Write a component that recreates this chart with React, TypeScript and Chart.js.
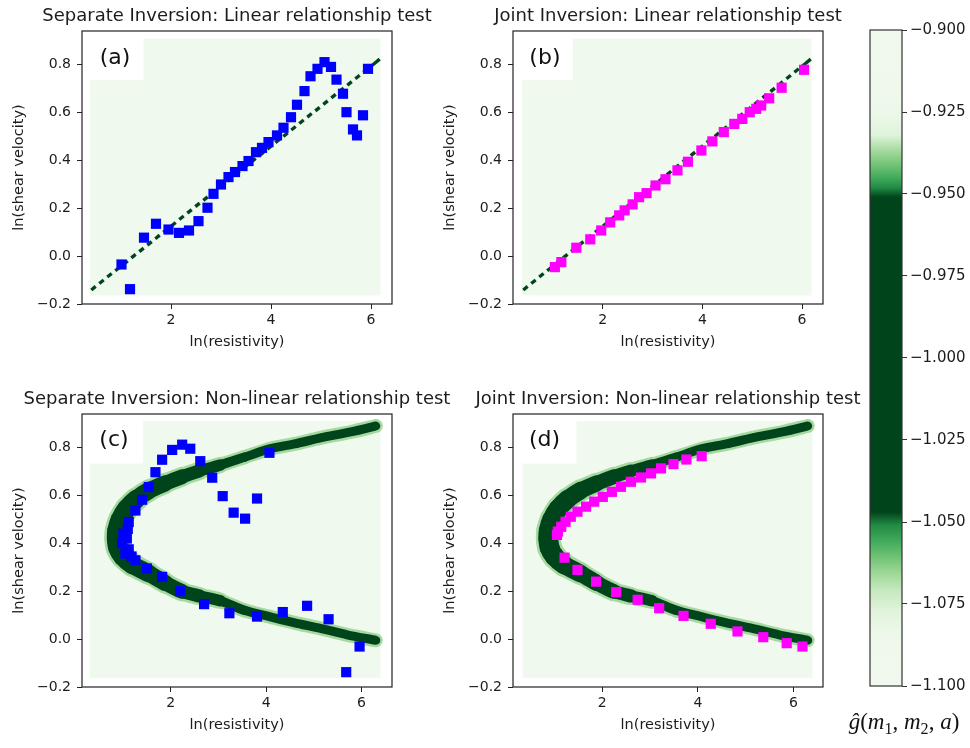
import React, { useEffect, useRef } from 'react';
import { Chart, registerables } from 'chart.js';

Chart.register(...registerables);

// ---------- data ----------
const X_TICKS = [2, 4, 6];
const Y_TICKS = [-0.2, 0, 0.2, 0.4, 0.6, 0.8];
const CB_TICKS = [-0.9, -0.925, -0.95, -0.975, -1.0, -1.025, -1.05, -1.075, -1.1];

// linear relationship: cells of the objective function near its minimum
const LIN_X = [0.45, 0.61, 0.77, 0.93, 1.09, 1.25, 1.41, 1.57, 1.73, 1.89, 2.05, 2.21, 2.37, 2.53, 2.69, 2.85, 3.01, 3.17, 3.33, 3.49, 3.65, 3.81, 3.97, 4.13, 4.29, 4.45, 4.61, 4.77, 4.93, 5.09, 5.25, 5.41, 5.57, 5.73, 5.89, 6.05, 6.13];
const LIN_Y = [-0.134, -0.107, -0.08, -0.054, -0.027, 0.0, 0.026, 0.053, 0.08, 0.107, 0.133, 0.16, 0.187, 0.214, 0.24, 0.267, 0.294, 0.32, 0.347, 0.374, 0.401, 0.427, 0.454, 0.481, 0.507, 0.534, 0.561, 0.588, 0.614, 0.641, 0.668, 0.694, 0.721, 0.748, 0.775, 0.801, 0.815];

// non-linear relationship: centre line of the dark band
const NL_X = [6.3, 5.8, 5.14, 4.6, 4.09, 3.55, 3.04, 2.6, 2.24, 1.88, 1.54, 1.28, 1.08, 0.95, 0.88, 0.87, 0.9, 1.0, 1.2, 1.54, 1.88, 2.24, 2.6, 3.04, 3.55, 4.09, 4.6, 5.14, 5.7, 6.3];
const NL_Y = [0.89, 0.866, 0.84, 0.815, 0.795, 0.76, 0.727, 0.702, 0.678, 0.65, 0.62, 0.585, 0.545, 0.5, 0.455, 0.42, 0.38, 0.345, 0.31, 0.274, 0.235, 0.199, 0.18, 0.16, 0.12, 0.093, 0.068, 0.045, 0.018, -0.005];

// (a) separate inversion, linear
const A_X = [1.01, 1.18, 1.46, 1.7, 1.95, 2.16, 2.36, 2.55, 2.73, 2.85, 3.0, 3.15, 3.28, 3.43, 3.55, 3.7, 3.82, 3.95, 4.12, 4.25, 4.4, 4.52, 4.67, 4.79, 4.93, 5.07, 5.2, 5.31, 5.44, 5.51, 5.64, 5.72, 5.84, 5.94];
const A_Y = [-0.035, -0.138, 0.077, 0.135, 0.111, 0.097, 0.107, 0.146, 0.202, 0.26, 0.299, 0.33, 0.351, 0.376, 0.397, 0.434, 0.452, 0.476, 0.504, 0.536, 0.58, 0.632, 0.689, 0.751, 0.782, 0.81, 0.79, 0.737, 0.678, 0.601, 0.529, 0.504, 0.588, 0.782];

// (b) joint inversion, linear
const B_X = [1.04, 1.17, 1.47, 1.75, 1.97, 2.15, 2.33, 2.44, 2.6, 2.73, 2.88, 3.06, 3.26, 3.5, 3.71, 3.98, 4.2, 4.43, 4.64, 4.8, 4.95, 5.08, 5.18, 5.34, 5.59, 6.04];
const B_Y = [-0.046, -0.025, 0.035, 0.07, 0.107, 0.141, 0.17, 0.191, 0.216, 0.246, 0.263, 0.295, 0.321, 0.358, 0.394, 0.441, 0.479, 0.518, 0.552, 0.573, 0.601, 0.615, 0.629, 0.659, 0.703, 0.778];

// (c) separate inversion, non-linear
const C_X = [4.07, 2.24, 2.03, 2.41, 1.82, 2.62, 1.68, 2.87, 1.54, 1.4, 3.09, 3.81, 3.32, 3.56, 1.26, 1.12, 1.01, 0.98, 1.05, 1.26, 1.5, 1.82, 2.2, 2.7, 3.23, 3.81, 4.35, 4.86, 5.31, 5.96, 5.68, 1.1, 1.08, 1.12, 1.18];
const C_Y = [0.778, 0.812, 0.79, 0.795, 0.749, 0.743, 0.697, 0.674, 0.635, 0.582, 0.597, 0.587, 0.528, 0.503, 0.537, 0.489, 0.44, 0.4, 0.357, 0.329, 0.295, 0.26, 0.2, 0.146, 0.108, 0.094, 0.113, 0.139, 0.083, -0.031, -0.138, 0.46, 0.42, 0.375, 0.345];

// (d) joint inversion, non-linear
const D_X = [4.08, 3.76, 3.49, 3.23, 3.02, 2.81, 2.6, 2.39, 2.2, 2.01, 1.83, 1.66, 1.48, 1.34, 1.23, 1.14, 1.07, 1.05, 1.21, 1.48, 1.87, 2.29, 2.74, 3.19, 3.7, 4.27, 4.83, 5.37, 5.86, 6.19];
const D_Y = [0.764, 0.75, 0.731, 0.713, 0.692, 0.675, 0.657, 0.636, 0.615, 0.594, 0.574, 0.553, 0.532, 0.511, 0.49, 0.469, 0.449, 0.435, 0.34, 0.289, 0.24, 0.196, 0.164, 0.129, 0.097, 0.064, 0.032, 0.008, -0.017, -0.031];

// colour bar (value -> colour)
const CB_STOP_VALUES = [-0.9, -0.925, -0.932, -0.937, -0.941, -0.945, -0.948, -0.951, -1.047, -1.051, -1.056, -1.061, -1.066, -1.071, -1.077, -1.084, -1.1];
const CB_STOP_COLORS = ['#f1f9ee', '#eef8ea', '#e0f3db', '#a1d99b', '#74c476', '#41ab5d', '#238b45', '#00441b', '#00441b', '#238b45', '#41ab5d', '#74c476', '#a1d99b', '#c7e9c0', '#e0f3db', '#eef8ea', '#f1f9ee'];

// ---------- styling ----------
const FONT = '"DejaVu Sans", "Liberation Sans", sans-serif';
const TXT = '#1c1c1c';
const HEAT_BG = '#f0f9ed';
const DARK = '#00441b';

const pts = (xs: number[], ys: number[]) => xs.map((x, i) => ({ x, y: ys[i] }));
const fmt = (v: number, d: number) => {
  const s = Math.abs(v).toFixed(d);
  return v < -1e-9 ? '\u2212' + s : s;
};
const bandWidth = (x: number) => 9 + 11 * Math.max(0, 1 - (x - 0.87) / 2.5);

type Spec = {
  title: string;
  tag: string;
  xMin: number;
  xMax: number;
  heat: number[]; // x0, x1, y0, y1
  tagBoxRight: number;
  tagBoxBottom: number;
  tagPos: number[];
  datasets: any[];
};

function linearSets(xs: number[], ys: number[], color: string) {
  return [
    {
      data: pts(xs, ys),
      pointStyle: 'rect',
      pointRadius: 7.2,
      backgroundColor: color,
      borderWidth: 0,
      order: 0,
    },
    {
      data: pts(LIN_X, LIN_Y),
      pointStyle: 'line',
      pointRadius: 2.8,
      pointRotation: -39,
      borderColor: DARK,
      backgroundColor: DARK,
      borderWidth: 3.4,
      order: 2,
    },
  ];
}

function nonlinearSets(xs: number[], ys: number[], color: string) {
  return [
    {
      data: pts(xs, ys),
      pointStyle: 'rect',
      pointRadius: 7.2,
      backgroundColor: color,
      borderWidth: 0,
      order: 0,
    },
    {
      data: pts(NL_X, NL_Y),
      showLine: true,
      pointRadius: 0,
      borderColor: DARK,
      borderCapStyle: 'round',
      borderJoinStyle: 'round',
      tension: 0.25,
      borderWidth: 10,
      segment: {
        borderWidth: (c: any) => bandWidth((NL_X[c.p0DataIndex] + NL_X[c.p1DataIndex]) / 2),
      },
      order: 2,
    },
    {
      data: pts(NL_X, NL_Y),
      showLine: true,
      pointRadius: 0,
      borderColor: '#a6d9a0',
      borderCapStyle: 'round',
      borderJoinStyle: 'round',
      tension: 0.25,
      borderWidth: 15,
      segment: {
        borderWidth: (c: any) => bandWidth((NL_X[c.p0DataIndex] + NL_X[c.p1DataIndex]) / 2) + 5,
      },
      order: 3,
    },
  ];
}

function panelConfig(spec: Spec): any {
  const decor = {
    id: 'panelDecor',
    beforeDatasetsDraw(chart: any) {
      const { ctx, chartArea: ca } = chart;
      const xs = chart.scales.x;
      const ys = chart.scales.y;
      const [hx0, hx1, hy0, hy1] = spec.heat;
      ctx.save();
      ctx.beginPath();
      ctx.rect(ca.left, ca.top, ca.right - ca.left, ca.bottom - ca.top);
      ctx.clip();
      ctx.fillStyle = HEAT_BG;
      const px0 = xs.getPixelForValue(hx0);
      const px1 = xs.getPixelForValue(hx1);
      const py0 = ys.getPixelForValue(hy1);
      const py1 = ys.getPixelForValue(hy0);
      ctx.fillRect(px0, py0, px1 - px0, py1 - py0);
      // white box behind the panel tag
      ctx.fillStyle = '#ffffff';
      const bx1 = xs.getPixelForValue(spec.tagBoxRight);
      const by1 = ys.getPixelForValue(spec.tagBoxBottom);
      ctx.fillRect(ca.left, ca.top, bx1 - ca.left, by1 - ca.top);
      ctx.restore();
    },
    afterDraw(chart: any) {
      const { ctx, chartArea: ca } = chart;
      const xs = chart.scales.x;
      const ys = chart.scales.y;
      ctx.save();
      // frame (all four spines)
      ctx.strokeStyle = '#222';
      ctx.lineWidth = 1.2;
      ctx.strokeRect(ca.left, ca.top, ca.right - ca.left, ca.bottom - ca.top);
      // tag
      ctx.fillStyle = '#111';
      ctx.font = `22px ${FONT}`;
      ctx.textAlign = 'center';
      ctx.textBaseline = 'middle';
      ctx.fillText(spec.tag, xs.getPixelForValue(spec.tagPos[0]), ys.getPixelForValue(spec.tagPos[1]));
      // title
      ctx.fillStyle = TXT;
      ctx.font = `18px ${FONT}`;
      ctx.textBaseline = 'alphabetic';
      ctx.fillText(spec.title, (ca.left + ca.right) / 2, ca.top - 10);
      ctx.restore();
    },
  };

  const gridOpts = { drawOnChartArea: false, drawTicks: true, tickLength: 5, color: '#222', lineWidth: 1 };
  return {
    type: 'scatter',
    data: { datasets: spec.datasets },
    options: {
      animation: false,
      responsive: false,
      devicePixelRatio: 1,
      layout: { padding: { left: 0, top: 31, right: 78, bottom: 6 } },
      plugins: { legend: { display: false }, tooltip: { enabled: false }, title: { display: false } },
      scales: {
        x: {
          type: 'linear',
          min: spec.xMin,
          max: spec.xMax,
          afterBuildTicks: (s: any) => {
            s.ticks = X_TICKS.map((v) => ({ value: v }));
          },
          afterFit: (s: any) => {
            s.height = 50;
          },
          ticks: { font: { family: FONT, size: 14 }, color: TXT, padding: 3, maxRotation: 0, callback: (v: any) => String(v) },
          grid: gridOpts,
          border: { display: false },
          title: { display: true, text: 'ln(resistivity)', font: { family: FONT, size: 14.5 }, color: TXT, padding: { top: 0, bottom: 3.3 } },
        },
        y: {
          type: 'linear',
          min: -0.2,
          max: 0.94,
          afterBuildTicks: (s: any) => {
            s.ticks = Y_TICKS.map((v) => ({ value: v }));
          },
          afterFit: (s: any) => {
            s.width = 82;
          },
          ticks: { font: { family: FONT, size: 14 }, color: TXT, padding: 6, callback: (v: any) => fmt(Number(v), 1) },
          grid: gridOpts,
          border: { display: false },
          title: { display: true, text: 'ln(shear velocity)', font: { family: FONT, size: 14.5 }, color: TXT, padding: { top: 10.3, bottom: 0 } },
        },
      },
    },
    plugins: [decor],
  };
}

function colorbarConfig(): any {
  const cb = {
    id: 'cbDecor',
    beforeDatasetsDraw(chart: any) {
      const { ctx, chartArea: ca } = chart;
      const ys = chart.scales.y;
      const g = ctx.createLinearGradient(0, ca.top, 0, ca.bottom);
      CB_STOP_VALUES.forEach((v, i) => {
        const f = (ys.getPixelForValue(v) - ca.top) / (ca.bottom - ca.top);
        g.addColorStop(Math.min(1, Math.max(0, f)), CB_STOP_COLORS[i]);
      });
      ctx.save();
      ctx.fillStyle = g;
      ctx.fillRect(ca.left, ca.top, ca.right - ca.left, ca.bottom - ca.top);
      ctx.restore();
    },
    afterDraw(chart: any) {
      const { ctx, chartArea: ca } = chart;
      ctx.save();
      ctx.strokeStyle = '#333';
      ctx.lineWidth = 1.2;
      ctx.strokeRect(ca.left, ca.top, ca.right - ca.left, ca.bottom - ca.top);
      // label  ĝ(m1, m2, a)
      const it = (s: number) => `italic ${s}px "Liberation Serif", "DejaVu Serif", serif`;
      const rm = (s: number) => `${s}px "Liberation Serif", "DejaVu Serif", serif`;
      const parts: { t: string; sub?: boolean; ital: boolean; gap?: number }[] = [
        { t: '\u011D', ital: true },
        { t: '(', ital: false },
        { t: 'm', ital: true },
        { t: '1', ital: false, sub: true },
        { t: ',', ital: false, gap: 0.25 },
        { t: 'm', ital: true },
        { t: '2', ital: false, sub: true },
        { t: ',', ital: false, gap: 0.25 },
        { t: 'a', ital: true },
        { t: ')', ital: false },
      ];
      const size = 23;
      const measure = (p: any) => {
        const s = p.sub ? size * 0.7 : size;
        ctx.font = p.ital ? it(s) : rm(s);
        return ctx.measureText(p.t).width + (p.gap ? p.gap * size : 0);
      };
      const total = parts.reduce((a, p) => a + measure(p), 0);
      let x = 64 - total / 2;
      const base = 729;
      ctx.fillStyle = '#111';
      ctx.textBaseline = 'alphabetic';
      ctx.textAlign = 'left';
      parts.forEach((p) => {
        const s = p.sub ? size * 0.7 : size;
        ctx.font = p.ital ? it(s) : rm(s);
        ctx.fillText(p.t, x, p.sub ? base + size * 0.2 : base);
        x += measure(p);
      });
      ctx.restore();
    },
  };
  return {
    type: 'scatter',
    data: { datasets: [] },
    options: {
      animation: false,
      responsive: false,
      devicePixelRatio: 1,
      layout: { padding: { left: 30, top: 30, right: 0, bottom: 62 } },
      plugins: { legend: { display: false }, tooltip: { enabled: false } },
      scales: {
        x: { display: false, min: 0, max: 1 },
        y: {
          position: 'right',
          min: -1.1,
          max: -0.9,
          afterBuildTicks: (s: any) => {
            s.ticks = CB_TICKS.map((v) => ({ value: v }));
          },
          afterFit: (s: any) => {
            s.width = 68;
          },
          ticks: { font: { family: FONT, size: 15 }, color: TXT, padding: 3, callback: (v: any) => fmt(Number(v), 3) },
          grid: { drawOnChartArea: false, drawTicks: true, tickLength: 5, color: '#333', lineWidth: 1 },
          border: { display: false },
        },
      },
    },
    plugins: [cb],
  };
}

const SPECS: Spec[] = [
  {
    title: 'Separate Inversion: Linear relationship test',
    tag: '(a)',
    xMin: 0.22,
    xMax: 6.42,
    heat: [0.38, 6.19, -0.164, 0.908],
    tagBoxRight: 1.45,
    tagBoxBottom: 0.735,
    tagPos: [0.88, 0.825],
    datasets: linearSets(A_X, A_Y, '#0000ff'),
  },
  {
    title: 'Joint Inversion: Linear relationship test',
    tag: '(b)',
    xMin: 0.2,
    xMax: 6.42,
    heat: [0.38, 6.19, -0.164, 0.908],
    tagBoxRight: 1.4,
    tagBoxBottom: 0.735,
    tagPos: [0.84, 0.825],
    datasets: linearSets(B_X, B_Y, '#ff00ff'),
  },
  {
    title: 'Separate Inversion: Non-linear relationship test',
    tag: '(c)',
    xMin: 0.14,
    xMax: 6.64,
    heat: [0.3, 6.4, -0.163, 0.91],
    tagBoxRight: 1.42,
    tagBoxBottom: 0.733,
    tagPos: [0.81, 0.83],
    datasets: nonlinearSets(C_X, C_Y, '#0000ff'),
  },
  {
    title: 'Joint Inversion: Non-linear relationship test',
    tag: '(d)',
    xMin: 0.13,
    xMax: 6.62,
    heat: [0.33, 6.4, -0.163, 0.91],
    tagBoxRight: 1.46,
    tagBoxBottom: 0.733,
    tagPos: [0.79, 0.83],
    datasets: nonlinearSets(D_X, D_Y, '#ff00ff'),
  },
];

const POS = [
  { left: 0, top: 0 },
  { left: 431, top: 0 },
  { left: 0, top: 383 },
  { left: 431, top: 383 },
];

export default function App() {
  const r0 = useRef<HTMLCanvasElement>(null);
  const r1 = useRef<HTMLCanvasElement>(null);
  const r2 = useRef<HTMLCanvasElement>(null);
  const r3 = useRef<HTMLCanvasElement>(null);
  const rc = useRef<HTMLCanvasElement>(null);
  const refs = [r0, r1, r2, r3];

  useEffect(() => {
    const charts: Chart[] = [];
    refs.forEach((r, i) => {
      if (r.current) charts.push(new Chart(r.current, panelConfig(SPECS[i])));
    });
    if (rc.current) charts.push(new Chart(rc.current, colorbarConfig()));
    return () => charts.forEach((c) => c.destroy());
  }, []);

  return (
    <div style={{ position: 'absolute', left: 0, top: 0, width: 970, height: 748, background: '#fff', overflow: 'hidden' }}>
      {refs.map((r, i) => (
        <canvas
          key={i}
          ref={r}
          width={470}
          height={360}
          style={{ position: 'absolute', left: POS[i].left, top: POS[i].top, width: 470, height: 360 }}
        />
      ))}
      <canvas ref={rc} width={130} height={748} style={{ position: 'absolute', left: 840, top: 0, width: 130, height: 748 }} />
    </div>
  );
}
